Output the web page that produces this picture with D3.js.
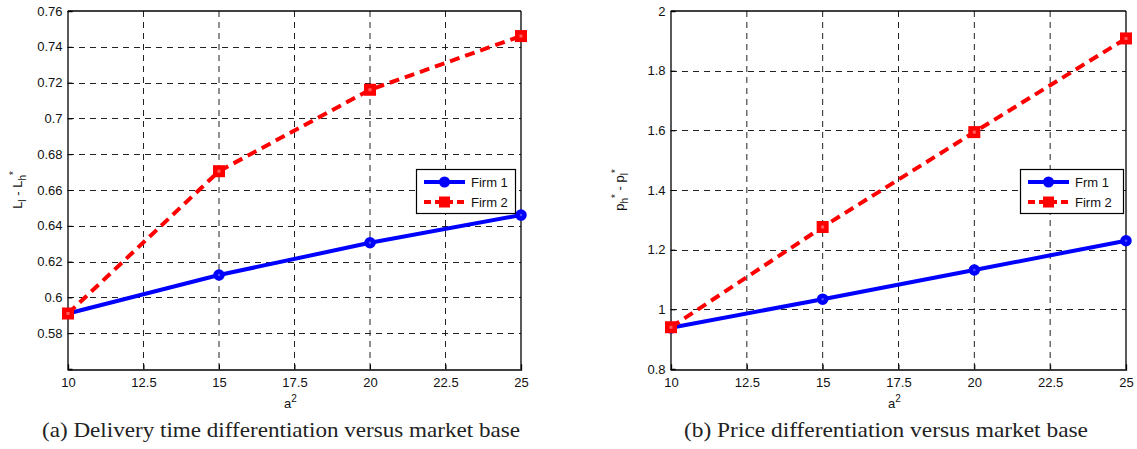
<!DOCTYPE html>
<html>
<head>
<meta charset="utf-8">
<script src="https://cdn.jsdelivr.net/npm/d3@7"></script>
<style>
  html, body { margin: 0; padding: 0; background: #fff; }
  svg { display: block; }
</style>
</head>
<body>
<svg id="chart" width="1137" height="449"></svg>
<script>
// Market base values (a^2) shared by both panels
const marketBase = [10, 15, 20, 25];
const xTicks = [10, 12.5, 15, 17.5, 20, 22.5, 25];

// Panel (a): delivery time differentiation L_l - L_h*
const deliveryFirm1 = [0.591, 0.6125, 0.6305, 0.646];
const deliveryFirm2 = [0.591, 0.6705, 0.716, 0.746];
const deliveryTicks = [0.58, 0.6, 0.62, 0.64, 0.66, 0.68, 0.7, 0.72, 0.74, 0.76];

// Panel (b): price differentiation p_h* - p_l*
const priceFirm1 = [0.938, 1.034, 1.132, 1.23];
const priceFirm2 = [0.94, 1.276, 1.594, 1.908];
const priceTicks = [0.8, 1, 1.2, 1.4, 1.6, 1.8, 2];

const legendNamesA = ["Firm 1", "Firm 2"];
const legendNamesB = ["Frm 1", "Firm 2"];
const captions = [
  "(a) Delivery time differentiation versus market base",
  "(b) Price differentiation versus market base"
];

const svg = d3.select("#chart");
const sansFont = "Liberation Sans, Arial, sans-serif";
const serifFont = "Liberation Serif, serif";

function drawPanel(cfg) {
  const x = d3.scaleLinear().domain([10, 25]).range([cfg.left, cfg.right]);
  const y = d3.scaleLinear().domain(cfg.yDomain).range([369, 11]);
  const g = svg.append("g");

  // dashed grid
  g.append("g").selectAll("line.gx").data(xTicks.slice(1, -1)).join("line")
    .attr("x1", d => x(d)).attr("x2", d => x(d))
    .attr("y1", y.range()[0]).attr("y2", y.range()[1])
    .attr("stroke", "#222").attr("stroke-width", 1).attr("stroke-dasharray", "6,5");
  g.append("g").selectAll("line.gy").data(cfg.yTicks.filter(d => d > cfg.yDomain[0] && d < cfg.yDomain[1])).join("line")
    .attr("y1", d => Math.round(y(d)) + 0.5).attr("y2", d => Math.round(y(d)) + 0.5)
    .attr("x1", cfg.left).attr("x2", cfg.right)
    .attr("stroke", "#222").attr("stroke-width", 1).attr("stroke-dasharray", "6,5");

  // axes
  const xAxis = d3.axisBottom(x).tickValues(xTicks).tickSize(-5).tickPadding(8)
    .tickFormat(d3.format("~g"));
  const yAxis = d3.axisLeft(y).tickValues(cfg.yTicks).tickSize(-5).tickPadding(5)
    .tickFormat(d3.format("~g"));
  const gx = g.append("g").attr("transform", "translate(0,369.5)").call(xAxis);
  const gy = g.append("g").attr("transform", `translate(${cfg.left - 0.5},0)`).call(yAxis);
  [gx, gy].forEach(a => {
    a.select(".domain").attr("stroke", "#000").attr("stroke-width", 1.3);
    a.selectAll(".tick line").attr("stroke", "#000");
    a.selectAll("text").attr("font-family", sansFont).attr("font-size", 13).attr("fill", "#111");
  });
  gx.selectAll("text").attr("dy", "0.71em");
  // box top and right
  g.append("line").attr("x1", cfg.left).attr("x2", cfg.right).attr("y1", 11).attr("y2", 11)
    .attr("stroke", "#000").attr("stroke-width", 1.3);
  g.append("line").attr("x1", cfg.right).attr("x2", cfg.right).attr("y1", 11).attr("y2", 369)
    .attr("stroke", "#000").attr("stroke-width", 1.3);

  const line = d3.line().x((d, i) => x(marketBase[i])).y(d => y(d));

  // Firm 1: solid blue with circles
  g.append("path").datum(cfg.firm1).attr("d", line)
    .attr("fill", "none").attr("stroke", "#0000ff").attr("stroke-width", 4);
  // Firm 2: dashed red with squares
  g.append("path").datum(cfg.firm2).attr("d", line)
    .attr("fill", "none").attr("stroke", "#ff0000").attr("stroke-width", 4)
    .attr("stroke-dasharray", "10,6");

  g.append("g").selectAll("circle").data(cfg.firm1).join("circle")
    .attr("cx", (d, i) => x(marketBase[i])).attr("cy", d => y(d)).attr("r", 3.5)
    .attr("fill", "#5050ff").attr("stroke", "#0000ff").attr("stroke-width", 4.5);
  g.append("g").selectAll("rect").data(cfg.firm2).join("rect")
    .attr("x", (d, i) => x(marketBase[i]) - 3.75).attr("y", d => y(d) - 3.75)
    .attr("width", 7.5).attr("height", 7.5)
    .attr("fill", "#ff6060").attr("stroke", "#ff0000").attr("stroke-width", 4.5);

  // axis labels
  const xl = g.append("text").attr("x", (cfg.left + cfg.right) / 2 - 4).attr("y", 408)
    .attr("font-family", sansFont).attr("font-size", 13).attr("fill", "#111")
    .attr("text-anchor", "middle");
  xl.append("tspan").text("a");
  xl.append("tspan").attr("dy", -6).attr("font-size", 10).text("2");

  const yl = g.append("text")
    .attr("transform", `translate(${cfg.yLabelX},190) rotate(-90)`)
    .attr("font-family", sansFont).attr("font-size", 13).attr("fill", "#111")
    .attr("text-anchor", "middle");
  cfg.yLabelParts.forEach(p => {
    yl.append("tspan").attr("dy", p.dy || 0).attr("font-size", p.size || 13).text(p.t);
  });

  // legend
  const lg = g.append("g");
  lg.append("rect").attr("x", cfg.legend.x0 + 0.5).attr("y", 169.5)
    .attr("width", cfg.legend.x1 - cfg.legend.x0).attr("height", 44)
    .attr("fill", "#fff").attr("stroke", "#000").attr("stroke-width", 1.2);
  const rows = [
    { name: cfg.names[0], color: "#0000ff", dash: null, shape: "circle", yy: 182 },
    { name: cfg.names[1], color: "#ff0000", dash: "10,6", shape: "rect", yy: 202 }
  ];
  rows.forEach(r => {
    const l0 = cfg.legend.x0 + 8, l1 = cfg.legend.x0 + 49, lm = (l0 + l1) / 2;
    lg.append("line").attr("x1", l0).attr("x2", l1).attr("y1", r.yy).attr("y2", r.yy)
      .attr("stroke", r.color).attr("stroke-width", 4)
      .attr("stroke-dasharray", r.dash ? "7,4" : null);
    if (r.shape === "circle") {
      lg.append("circle").attr("cx", lm).attr("cy", r.yy).attr("r", 5.5).attr("fill", r.color);
    } else {
      lg.append("rect").attr("x", lm - 5.5).attr("y", r.yy - 5.5).attr("width", 11).attr("height", 11)
        .attr("fill", r.color);
    }
    lg.append("text").attr("x", cfg.legend.x0 + 55).attr("y", r.yy + 4.5)
      .attr("font-family", sansFont).attr("font-size", 13).attr("fill", "#111").text(r.name);
  });

  // caption
  svg.append("text").attr("x", cfg.capX).attr("y", 437)
    .attr("font-family", serifFont).attr("font-size", 21).attr("fill", "#222")
    .attr("textLength", cfg.capW).attr("lengthAdjust", "spacingAndGlyphs")
    .text(cfg.caption);
}

drawPanel({
  left: 68, right: 521, yDomain: [0.56, 0.76], yTicks: deliveryTicks,
  firm1: deliveryFirm1, firm2: deliveryFirm2, names: legendNamesA,
  legend: { x0: 416, x1: 515 }, yLabelX: 22,
  yLabelParts: [
    { t: "L" }, { t: "l", dy: 4, size: 10 }, { t: " - L", dy: -4 },
    { t: "h", dy: 4, size: 10 }, { t: "*", dy: -9, size: 10 }
  ],
  caption: captions[0], capX: 42, capW: 478
});

drawPanel({
  left: 671, right: 1126, yDomain: [0.8, 2], yTicks: priceTicks,
  firm1: priceFirm1, firm2: priceFirm2, names: legendNamesB,
  legend: { x0: 1020, x1: 1123 }, yLabelX: 624,
  yLabelParts: [
    { t: "p" }, { t: "h", dy: 4, size: 10 }, { t: "*", dy: -9, size: 10 },
    { t: " - p", dy: 5 }, { t: "l", dy: 4, size: 10 }, { t: "*", dy: -9, size: 10 }
  ],
  caption: captions[1], capX: 684, capW: 404
});
</script>
</body>
</html>
